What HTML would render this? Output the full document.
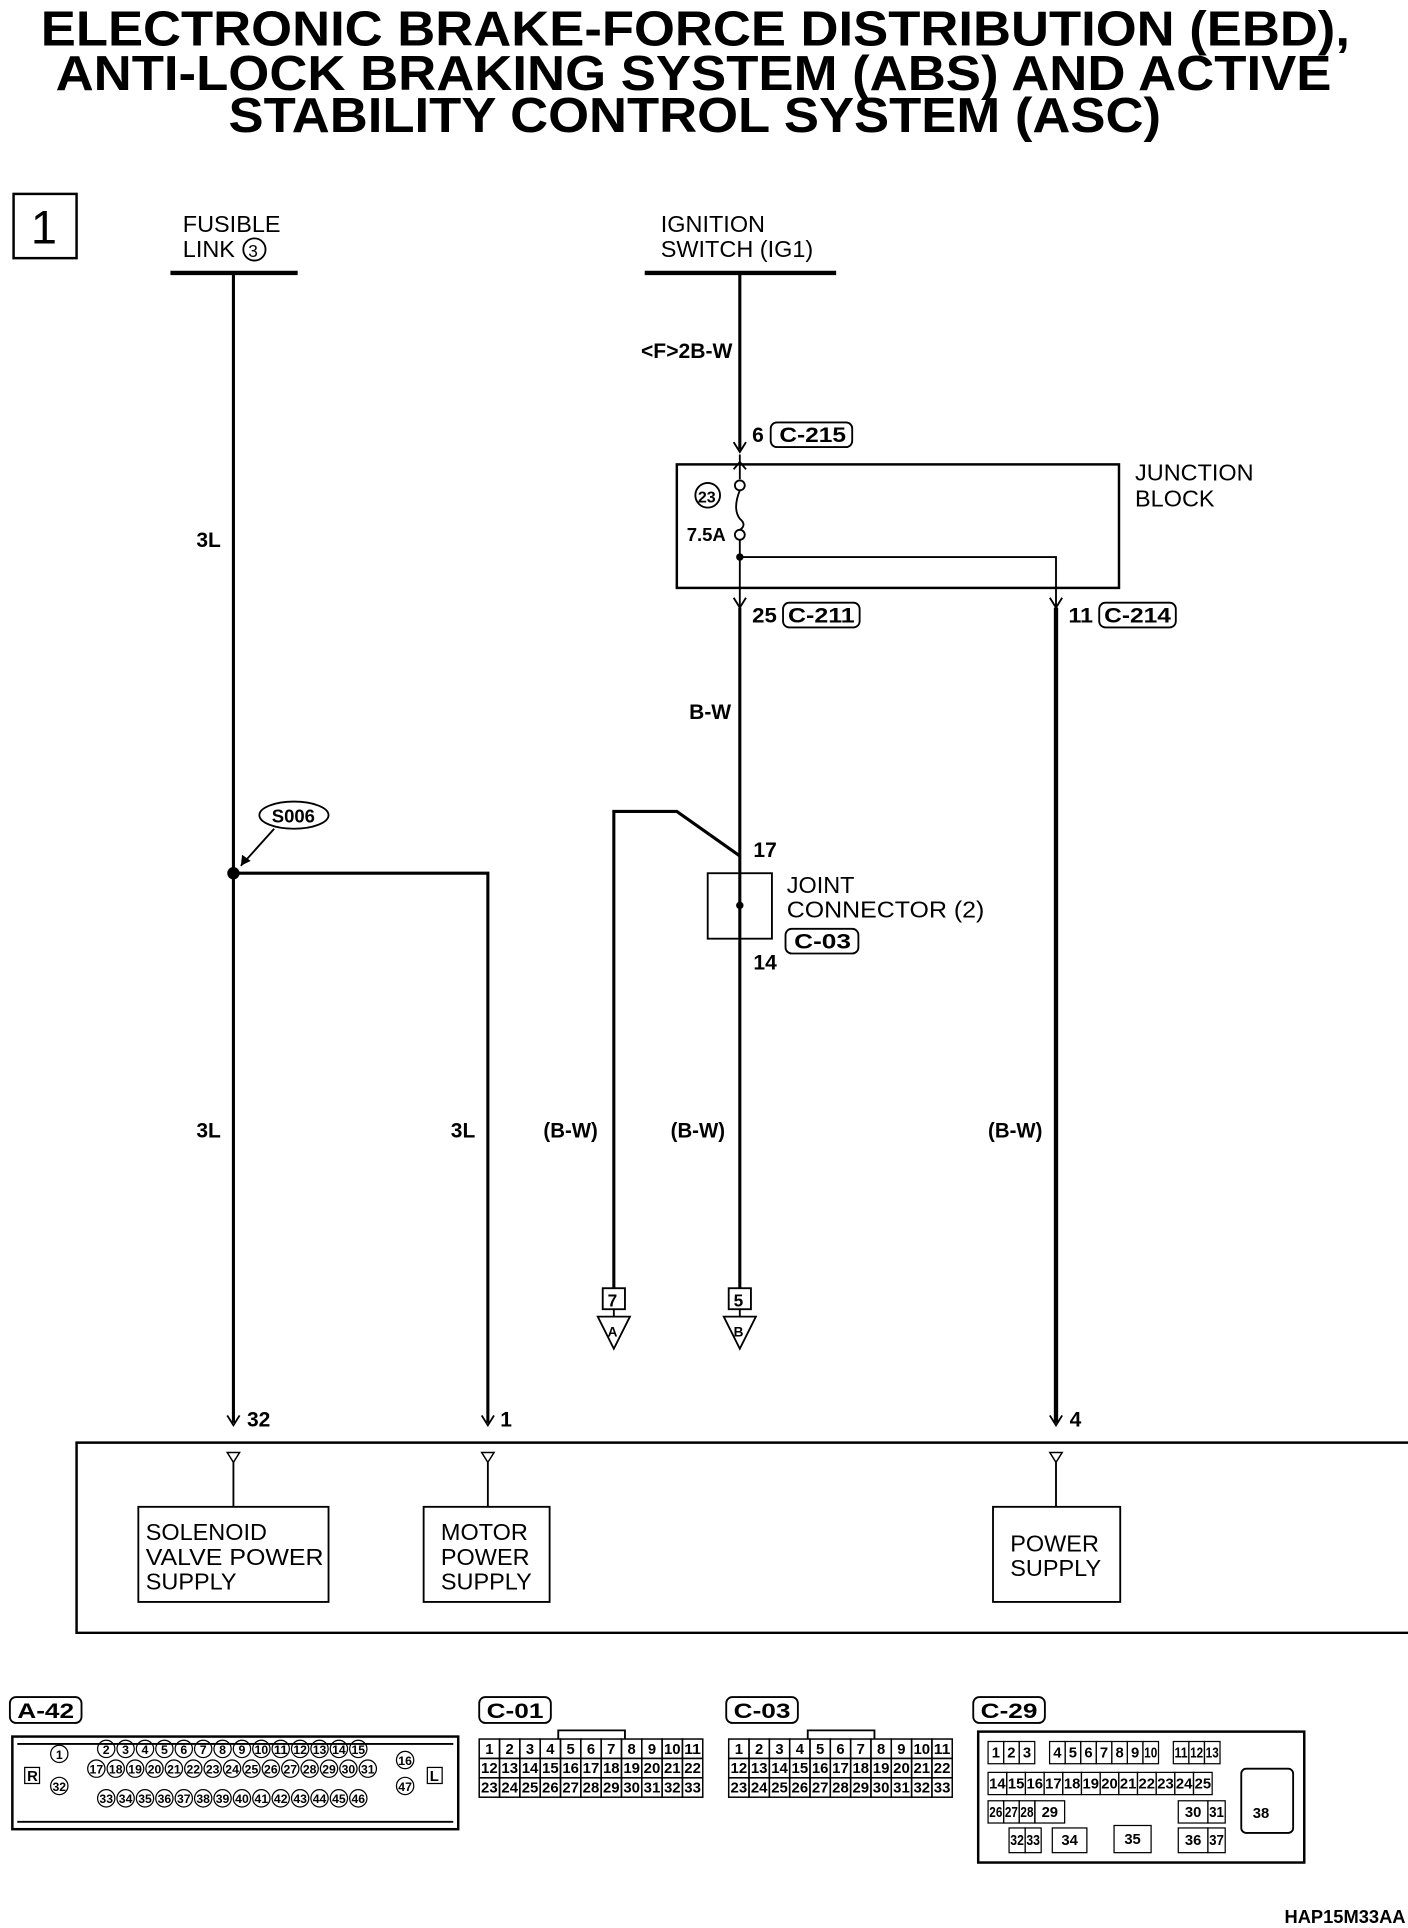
<!DOCTYPE html>
<html><head><meta charset="utf-8"><style>
html,body{margin:0;padding:0;background:#fff}
svg{display:block}
text{font-family:"Liberation Sans",sans-serif;fill:#000}
.t{font-weight:bold;font-size:40px}
.l{font-size:19px}
.w{font-size:17px;font-weight:bold}
.g{font-size:12px;font-weight:bold}
</style></head><body>
<svg id="s" width="1408" height="1928" viewBox="0 0 1140 1561" preserveAspectRatio="none" xmlns="http://www.w3.org/2000/svg">
<text class="t" x="33" y="37" textLength="1060" lengthAdjust="spacingAndGlyphs">ELECTRONIC BRAKE-FORCE DISTRIBUTION (EBD),</text>
<text class="t" x="45" y="73" textLength="1033" lengthAdjust="spacingAndGlyphs">ANTI-LOCK BRAKING SYSTEM (ABS) AND ACTIVE</text>
<text class="t" x="185" y="107" textLength="755" lengthAdjust="spacingAndGlyphs">STABILITY CONTROL SYSTEM (ASC)</text>

<rect x="11" y="157" width="51" height="52" fill="none" stroke="#000" stroke-width="2"/>
<text x="25" y="197" style="font-size:38px">1</text>

<text class="l" x="148" y="188">FUSIBLE</text>
<text class="l" x="148" y="208">LINK</text>
<circle cx="206" cy="202" r="9" fill="none" stroke="#000" stroke-width="1.5"/>
<text x="201" y="208" style="font-size:14px">3</text>
<text class="l" x="535" y="188">IGNITION</text>
<text class="l" x="535" y="208">SWITCH (IG1)</text>

<g stroke="#000" fill="none" stroke-width="2.5">
<line x1="138" y1="221" x2="241" y2="221" stroke-width="3.5"/>
<line x1="522" y1="221" x2="677" y2="221" stroke-width="3.5"/>
<line x1="189" y1="221" x2="189" y2="1152"/>
<polyline points="189,707 395,707 395,1152"/>
<line x1="599" y1="221" x2="599" y2="364"/>
<polyline points="594,358 599,366 604,358" stroke-width="1.5"/>
<rect x="548" y="376" width="358" height="100" stroke-width="2"/>
<line x1="599" y1="368" x2="599" y2="388" stroke-width="1.5"/>
<polyline points="594,380 599,374 604,380" stroke-width="1.5"/>
<circle cx="599" cy="393" r="4" stroke-width="1.5"/>
<path d="M599,397 Q593,412 599,420 Q605,425 599,429" stroke-width="1.5"/>
<circle cx="599" cy="433" r="4" stroke-width="1.5"/>
<line x1="599" y1="437" x2="599" y2="492" stroke-width="1.5"/>
<polyline points="599,451 855,451 855,492" stroke-width="1.5"/>
<polyline points="594,484 599,492 604,484" stroke-width="1.5"/>
<polyline points="850,484 855,492 860,484" stroke-width="1.5"/>
<line x1="599" y1="492" x2="599" y2="1043"/>
<line x1="855" y1="492" x2="855" y2="1152" stroke-width="3.5"/>
<polyline points="599,693 548,657 497,657 497,1043"/>
<rect x="573" y="707" width="52" height="53" stroke-width="1.5"/>
<rect x="488" y="1043" width="18" height="17" stroke-width="1.5"/>
<rect x="590" y="1043" width="18" height="17" stroke-width="1.5"/>
<polygon points="484,1066 510,1066 497,1092" stroke-width="1.5"/>
<polygon points="586,1066 612,1066 599,1092" stroke-width="1.5"/>
<line x1="497" y1="1060" x2="497" y2="1066" stroke-width="1.5"/>
<line x1="599" y1="1060" x2="599" y2="1066" stroke-width="1.5"/>
<polyline points="184,1146 189,1154 194,1146" stroke-width="1.5"/>
<polyline points="390,1146 395,1154 400,1146" stroke-width="1.5"/>
<polyline points="850,1146 855,1154 860,1146" stroke-width="1.5"/>
<polyline points="1140,1168 62,1168 62,1322 1140,1322" stroke-width="2"/>
<polygon points="184,1176 194,1176 189,1184" stroke-width="1.2"/>
<polygon points="390,1176 400,1176 395,1184" stroke-width="1.2"/>
<polygon points="850,1176 860,1176 855,1184" stroke-width="1.2"/>
<line x1="189" y1="1184" x2="189" y2="1220" stroke-width="1.5"/>
<line x1="395" y1="1184" x2="395" y2="1220" stroke-width="1.5"/>
<line x1="855" y1="1184" x2="855" y2="1220" stroke-width="1.5"/>
<rect x="112" y="1220" width="154" height="77" stroke-width="1.5"/>
<rect x="343" y="1220" width="102" height="77" stroke-width="1.5"/>
<rect x="804" y="1220" width="103" height="77" stroke-width="1.5"/>
<ellipse cx="238" cy="660" rx="28" ry="11" stroke-width="1.5"/>
<line x1="222" y1="671" x2="195" y2="701" stroke-width="1.5"/>
<rect x="624" y="342" width="66" height="20" rx="5" stroke-width="1.5"/>
<rect x="634" y="488" width="62" height="20" rx="5" stroke-width="1.5"/>
<rect x="890" y="488" width="62" height="20" rx="5" stroke-width="1.5"/>
<rect x="636" y="752" width="59" height="20" rx="5" stroke-width="1.5"/>
<circle cx="573" cy="401" r="10" stroke-width="1.5"/>
</g>
<circle cx="189" cy="707" r="5"/>
<circle cx="599" cy="451" r="3"/>
<circle cx="599" cy="733" r="3"/>
<polygon points="195,701 196,692 203,697"/>
<text class="w" x="220" y="666" style="font-size:15px">S006</text>
<text class="w" x="159" y="443">3L</text>
<text class="w" x="159" y="921">3L</text>
<text class="w" x="365" y="921">3L</text>
<text class="w" x="519" y="290" textLength="74" lengthAdjust="spacingAndGlyphs">&lt;F&gt;2B-W</text>
<text class="w" x="609" y="358">6</text>
<text class="w" x="631" y="358" textLength="54" lengthAdjust="spacingAndGlyphs">C-215</text>
<text class="w" x="609" y="504" textLength="20" lengthAdjust="spacingAndGlyphs">25</text>
<text class="w" x="638" y="504" textLength="54" lengthAdjust="spacingAndGlyphs">C-211</text>
<text class="w" x="865" y="504" textLength="20" lengthAdjust="spacingAndGlyphs">11</text>
<text class="w" x="894" y="504" textLength="54" lengthAdjust="spacingAndGlyphs">C-214</text>
<text class="w" x="565" y="407" style="font-size:13px">23</text>
<text class="w" x="556" y="438" style="font-size:15px">7.5A</text>
<text class="l" x="919" y="389">JUNCTION</text>
<text class="l" x="919" y="410">BLOCK</text>
<text class="w" x="558" y="582">B-W</text>
<text class="w" x="610" y="694">17</text>
<text class="w" x="610" y="785">14</text>
<text class="l" x="637" y="723">JOINT</text>
<text class="l" x="637" y="743" textLength="160" lengthAdjust="spacingAndGlyphs">CONNECTOR (2)</text>
<text class="w" x="643" y="768" textLength="46" lengthAdjust="spacingAndGlyphs">C-03</text>
<text class="w" x="440" y="921" textLength="44" lengthAdjust="spacingAndGlyphs">(B-W)</text>
<text class="w" x="543" y="921" textLength="44" lengthAdjust="spacingAndGlyphs">(B-W)</text>
<text class="w" x="800" y="921" textLength="44" lengthAdjust="spacingAndGlyphs">(B-W)</text>
<text class="w" x="492" y="1058" style="font-size:14px">7</text>
<text class="w" x="594" y="1058" style="font-size:14px">5</text>
<text class="w" x="492" y="1082" style="font-size:11px">A</text>
<text class="w" x="594" y="1082" style="font-size:11px">B</text>
<text class="w" x="200" y="1155">32</text>
<text class="w" x="405" y="1155">1</text>
<text class="w" x="866" y="1155">4</text>
<text class="l" x="118" y="1247">SOLENOID</text>
<text class="l" x="118" y="1267" textLength="144" lengthAdjust="spacingAndGlyphs">VALVE POWER</text>
<text class="l" x="118" y="1287">SUPPLY</text>
<text class="l" x="357" y="1247">MOTOR</text>
<text class="l" x="357" y="1267">POWER</text>
<text class="l" x="357" y="1287">SUPPLY</text>
<text class="l" x="818" y="1256">POWER</text>
<text class="l" x="818" y="1276">SUPPLY</text>
<g stroke="#000" fill="none" stroke-width="1.5">
<rect x="8" y="1374" width="58" height="21" rx="5"/>
<rect x="388" y="1374" width="58" height="21" rx="5"/>
<rect x="588" y="1374" width="58" height="21" rx="5"/>
<rect x="788" y="1374" width="58" height="21" rx="5"/>
<rect x="10" y="1406" width="361" height="75" stroke-width="2"/>
<line x1="14" y1="1412" x2="367" y2="1412"/>
<line x1="14" y1="1475" x2="367" y2="1475"/>
<rect x="792" y="1402" width="264" height="106" stroke-width="2"/>
<rect x="1005" y="1432" width="42" height="52" rx="4"/>
</g>
<text class="w" x="14" y="1391" textLength="46" lengthAdjust="spacingAndGlyphs">A-42</text>
<text class="w" x="394" y="1391" textLength="46" lengthAdjust="spacingAndGlyphs">C-01</text>
<text class="w" x="594" y="1391" textLength="46" lengthAdjust="spacingAndGlyphs">C-03</text>
<text class="w" x="794" y="1391" textLength="46" lengthAdjust="spacingAndGlyphs">C-29</text>
<rect x="20" y="1431" width="12" height="13" fill="none" stroke="#000"/>
<text class="g" x="22" y="1442">R</text>
<rect x="346" y="1431" width="12" height="13" fill="none" stroke="#000"/>
<text class="g" x="348" y="1442">L</text>
<text class="w" x="1040" y="1557" style="font-size:15px" textLength="98" lengthAdjust="spacingAndGlyphs">HAP15M33AA</text>
</svg>
<script>
var s=document.getElementById('s'),NS='http://www.w3.org/2000/svg';
function el(n,a,t){var e=document.createElementNS(NS,n);for(var k in a)e.setAttribute(k,a[k]);if(t!=null)e.textContent=t;s.appendChild(e);return e;}
function cir(x,y,n){el('circle',{cx:x,cy:y,r:7,fill:'none',stroke:'#000','stroke-width':1});var a={x:x,y:y+4,'text-anchor':'middle','class':'g',style:'font-size:10px'};if(n>9){a.textLength=11;a.lengthAdjust='spacingAndGlyphs';}el('text',a,n);}
cir(48,1420,1);cir(48,1446,32);cir(328,1425,16);cir(328,1446,47);
for(var i=0;i<14;i++)cir(86+i*15.7,1416,i+2);
for(var i=0;i<15;i++)cir(78+i*15.7,1432,i+17);
for(var i=0;i<14;i++)cir(86+i*15.7,1456,i+33);
function grid(x0){var w=181/11,y0=1408,h=15.7;
 el('polyline',{points:(x0+64)+','+y0+' '+(x0+64)+','+(y0-7)+' '+(x0+118)+','+(y0-7)+' '+(x0+118)+','+y0,fill:'none',stroke:'#000','stroke-width':1.5});
 for(var r=0;r<3;r++)for(var c=0;c<11;c++){el('rect',{x:x0+c*w,y:y0+r*h,width:w,height:h,fill:'none',stroke:'#000','stroke-width':1.2});
 var n=r*11+c+1,a={x:x0+c*w+w/2,y:y0+r*h+12,'text-anchor':'middle','class':'g'};if(n>9){a.textLength=w-3;a.lengthAdjust='spacingAndGlyphs';}
 el('text',a,n);}}
grid(388);grid(590);
var cw=12.6;
function cell(x,y,w,h,n){el('rect',{x:x,y:y,width:w,height:h,fill:'none',stroke:'#000','stroke-width':1});var a={x:x+w/2,y:y+h/2+4,'text-anchor':'middle','class':'g'};if(n>9&&w<15){a.textLength=w-2;a.lengthAdjust='spacingAndGlyphs';}el('text',a,n);}
var x=800;for(var n=1;n<=3;n++){cell(x,1410,cw,18,n);x+=cw;}
x+=12;for(var n=4;n<=10;n++){cell(x,1410,cw,18,n);x+=cw;}
x+=12;for(var n=11;n<=13;n++){cell(x,1410,cw,18,n);x+=cw;}
x=800;for(var n=14;n<=25;n++){cell(x,1435,cw*1.2,18,n);x+=cw*1.2;}
x=800;for(var n=26;n<=28;n++){cell(x,1458,cw,18,n);x+=cw;}
cell(838,1458,24,18,29);cell(954,1458,24,18,30);cell(978,1458,14,18,31);
cell(817,1480,13,20,32);cell(830,1480,13,20,33);cell(852,1480,28,20,34);cell(902,1478,30,22,35);cell(954,1480,24,20,36);cell(978,1480,14,20,37);
el('text',{x:1021,y:1472,'text-anchor':'middle','class':'g'},38);
</script>
</body></html>
